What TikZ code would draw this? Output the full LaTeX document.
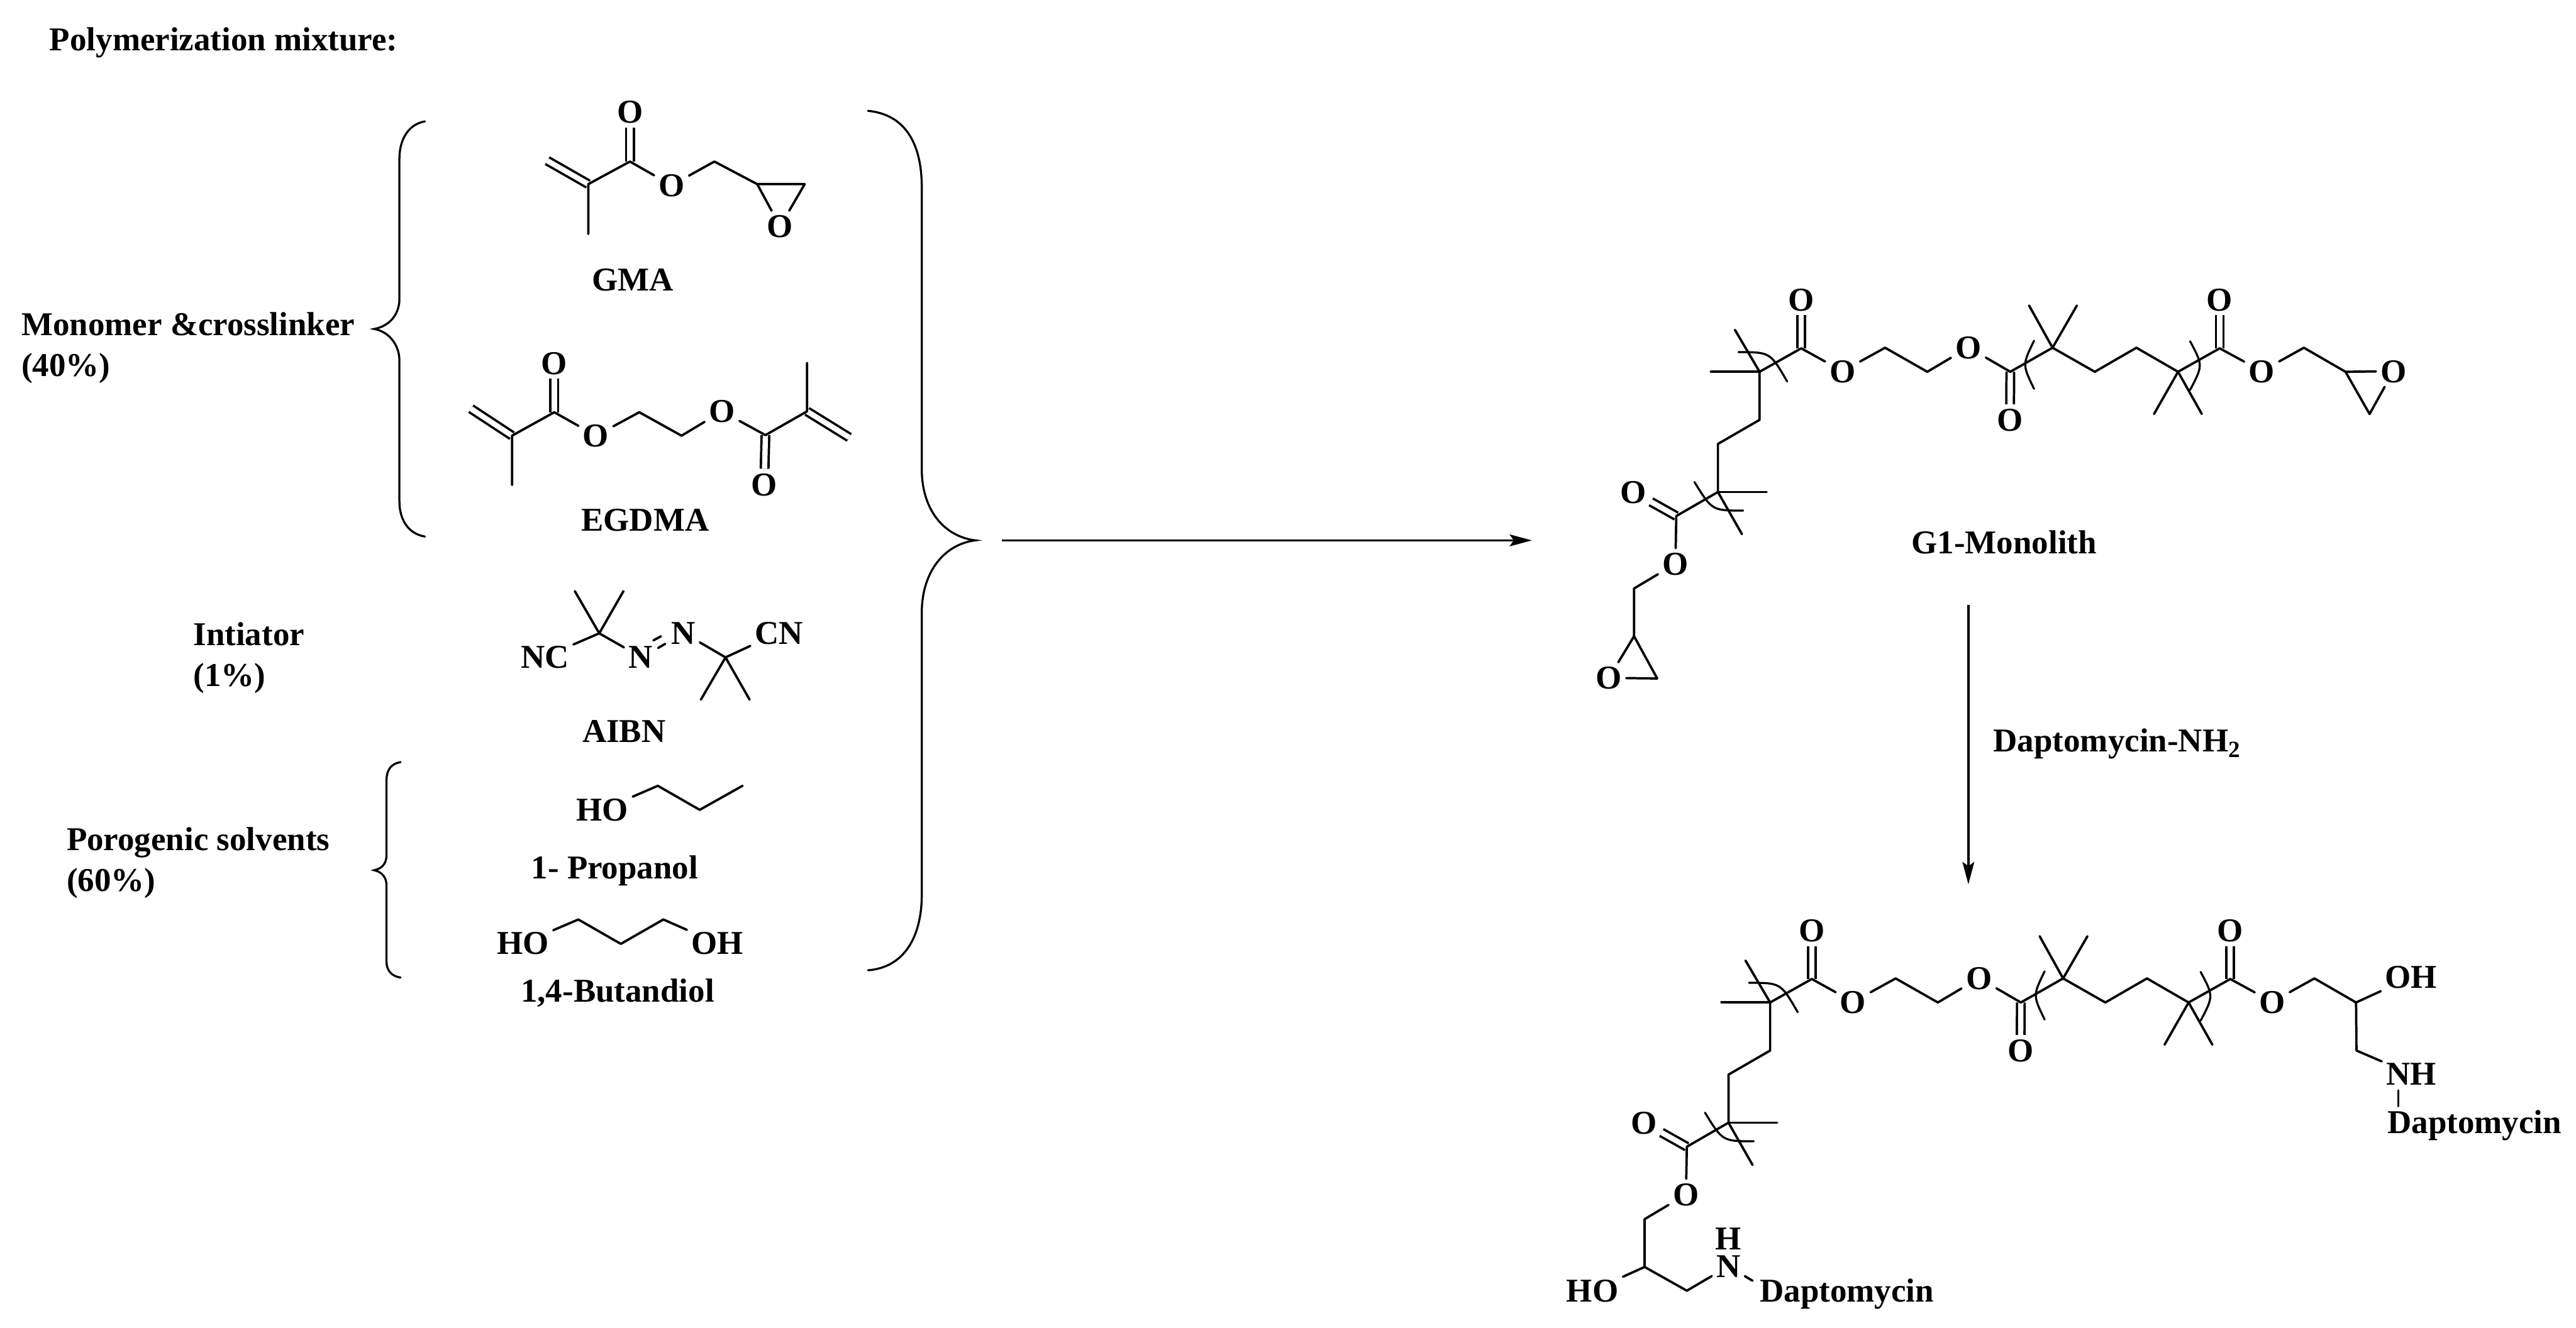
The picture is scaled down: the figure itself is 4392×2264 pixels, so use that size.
\documentclass[tikz,border=0pt]{standalone}
\usepackage{fontspec}
\setmainfont{Liberation Serif}
\usetikzlibrary{arrows.meta}

\tikzset{
    every node/.style={font=\fontsize{16.15}{19.8}\selectfont\bfseries},
    bond/.style={draw, line width=.04cm, line cap=round, line join=round},
    dbond/.style={draw, line width=.04cm, double, double distance=.09cm},
    curl/.style={draw, line width=.035cm, line cap=round},
    rxn/.style={draw, line width=.04cm, -{Stealth[length=.38cm, width=.2cm, inset=.07cm]}},
    atom/.style={inner sep=.07cm, text height=.38cm, text depth=0cm},
    lab/.style={inner sep=0pt, text height=.38cm, text depth=0cm},
    note/.style={inner sep=0pt, anchor=west, align=left}
}

\begin{document}
\begin{tikzpicture}[x=.01cm, y=-.01cm]
    \useasboundingbox (0,0) rectangle (4392,2264);

    % Chain shared by both polymers, measured from its first quaternary carbon
    \def\polychain{
        \coordinate (c1) at (0,0);
        \coordinate (co1) at (71,-40);
        \coordinate (cha) at (214,-41);
        \coordinate (chb) at (286,0);
        \coordinate (co2) at (427.5,0);
        \coordinate (c2) at (499.5,-41);
        \coordinate (chc) at (571.5,0);
        \coordinate (chd) at (642.5,-41);
        \coordinate (c3) at (713.5,0);
        \coordinate (co3) at (784.5,-40);
        \coordinate (che) at (928,-41);
        \coordinate (chf) at (999,0);
        \coordinate (chg) at (0,82);
        \coordinate (chh) at (-71,123);
        \coordinate (c4) at (-71,205);
        \coordinate (co4) at (-142,246);
        \coordinate (chi) at (-214,369.5);
        \coordinate (chj) at (-214,451);

        \node[atom] (o1) at (71,-123) {O};
        \node[atom] (oa) at (141.5,-1) {O};
        \node[atom] (ob) at (356,-41.5) {O};
        \node[atom] (o2) at (427,82) {O};
        \node[atom] (o3) at (784.5,-123) {O};
        \node[atom] (oc) at (856,-1) {O};
        \node[atom] (o4) at (-215,205) {O};
        \node[atom] (od) at (-143.5,327.5) {O};

        \draw[dbond] (co1) -- (o1);
        \draw[dbond] (co2) -- (o2);
        \draw[dbond] (co3) -- (o3);
        \draw[dbond] (co4) -- (o4);

        \draw[bond] (chj) -- (chi) -- (od) -- (co4) -- (c4) -- (chh) -- (chg) -- (c1) -- (co1) -- (oa) -- (cha) -- (chb) -- (ob) -- (co2) -- (c2) -- (chc) -- (chd) -- (c3) -- (co3) -- (oc) -- (che) -- (chf);

        \draw[bond] (c1) -- (-83,0);          % methyl groups
        \draw[bond] (c1) -- (-42,-71.5);
        \draw[bond] (c2) -- (459.5,-113);
        \draw[bond] (c2) -- (541,-113);
        \draw[bond] (c3) -- (672.5,72);
        \draw[bond] (c3) -- (754,72);
        \draw[bond] (c4) -- (12,205);
        \draw[bond] (c4) -- (-30,277);

        \draw[curl] (-36,-33.5) .. controls (18,-33.5) .. (47,16.5);  % repeat unit marks
        \draw[curl] (468,-53) .. controls (448,-12) .. (468,29);
        \draw[curl] (734,-52) .. controls (756,-11) .. (734,31);
        \draw[curl] (-111,188) .. controls (-81,236.7) .. (-28,236.7);
    }

    \node[lab, anchor=west] (title) at (84,67) {Polymerization mixture:};

    % Left column: what goes into the mixture
    \node[note] (monomer) at (36,593) {Monomer \&crosslinker\\(40\%)};
    \node[note] (initiator) at (329,1122) {Intiator\\(1\%)};
    \node[note] (porogen) at (113,1471) {Porogenic solvents\\(60\%)};

    \draw[curl] (724.5,207) .. controls (695,212) and (681,240) .. (681,270) -- (681,510) .. controls (681,535) and (665,556) .. (638,561) .. controls (665,566) and (681,590) .. (681,615) -- (681,855) .. controls (681,885) and (695,910) .. (724.5,915);
    \draw[curl] (683,1299.6) .. controls (668,1302) and (659,1312) .. (659,1330) -- (659,1458) .. controls (659,1472) and (652,1481) .. (638,1484) .. controls (652,1487) and (659,1497) .. (659,1510) -- (659,1640) .. controls (659,1655) and (668,1665) .. (683,1667);
    \draw[curl] (1480,189) .. controls (1540,195) and (1571.6,240) .. (1571.6,320) -- (1571.6,800) .. controls (1571.6,870) and (1610,915) .. (1663,921.5) .. controls (1610,928) and (1571.6,975) .. (1571.6,1045) -- (1571.6,1525) .. controls (1571.6,1600) and (1540,1650) .. (1480,1654.6);

    % GMA
    \coordinate (gmaA) at (1003,314);
    \coordinate (gmaB) at (1074,275.5);
    \coordinate (gmaC) at (1218,275.5);
    \coordinate (gmaD) at (1291,314);
    \coordinate (gmaE) at (1372,314);
    \node[atom] (gmaO) at (1074,191) {O};
    \node[atom] (gmaP) at (1145,316) {O};
    \node[atom] (gmaQ) at (1330,386) {O};
    \draw[dbond] (gmaB) -- (gmaO);
    \draw[dbond] (gmaA) -- (933,274);
    \draw[bond] (1003,399) -- (gmaA) -- (gmaB) -- (gmaP) -- (gmaC) -- (gmaD) -- (gmaE) -- (gmaQ) -- (gmaD);
    \node[lab] (gma) at (1079,477) {GMA};

    % EGDMA
    \coordinate (egA) at (873,743);
    \coordinate (egB) at (945,703);
    \coordinate (egC) at (1090,703);
    \coordinate (egD) at (1162,743);
    \coordinate (egE) at (1305,742);
    \coordinate (egF) at (1376,701.5);
    \node[atom] (egO) at (945,619) {O};
    \node[atom] (egP) at (1016,743) {O};
    \node[atom] (egQ) at (1231,701.5) {O};
    \node[atom] (egR) at (1303,826) {O};
    \draw[dbond] (egB) -- (egO);
    \draw[dbond] (egE) -- (egR);
    \draw[dbond] (egA) -- (803,697);
    \draw[dbond] (egF) -- (1448,746);
    \draw[bond] (873,827) -- (egA) -- (egB) -- (egP) -- (egC) -- (egD) -- (egQ) -- (egE) -- (egF) -- (1376,619);
    \node[lab] (egdma) at (1100,886.5) {EGDMA};

    % AIBN
    \coordinate (aiA) at (1021.7,1080);
    \coordinate (aiB) at (1237,1121);
    \node[atom] (aiNC) at (929,1120) {NC};
    \node[atom] (aiN) at (1092,1120) {N};
    \node[atom] (aiM) at (1165,1079) {N};
    \node[atom] (aiCN) at (1328,1079) {CN};
    \draw[bond] (aiNC) -- (aiA) -- (aiN);
    \draw[bond] (980,1008) -- (aiA) -- (1063,1008);
    \draw[bond] (aiM) -- (aiB) -- (aiCN);
    \draw[bond] (1195,1193) -- (aiB) -- (1278,1193);
    \draw[bond] (1114,1092) -- (1127,1085);   % the N=N stubs
    \draw[bond] (1122,1105) -- (1134,1098);
    \node[lab] (aibn) at (1064,1247) {AIBN};

    % 1-Propanol
    \node[atom] (prO) at (1027,1381) {HO};
    \draw[bond] (prO) -- (1121.5,1340) -- (1193,1381) -- (1266,1340);
    \node[lab] (propanol) at (1048,1480) {1- Propanol};

    % 1,4-Butandiol
    \node[atom] (buO) at (891.5,1608.5) {HO};
    \node[atom] (buP) at (1223,1608.5) {OH};
    \draw[bond] (buO) -- (986,1568) -- (1058.5,1609.6) -- (1131,1568) -- (buP);
    \node[lab] (butandiol) at (1053,1690) {1,4-Butandiol};

    % Reaction arrows
    \coordinate (mixout) at (1708,921.5);
    \coordinate (monoin) at (2612,921.5);
    \coordinate (monoout) at (3356,1032);
    \coordinate (prodin) at (3356,1508);
    \draw[rxn] (mixout) -- (monoin);
    \draw[rxn] (monoout) -- (prodin);
    \node[lab, anchor=west] (reagent) at (3398,1263) {Daptomycin-NH\textsubscript{2}};

    % G1-Monolith
    \begin{scope}[shift={(3000,634)}]
        \polychain
        \coordinate (epA) at (1040,72);
        \node[atom] (epO) at (1080.6,-1) {O};
        \draw[bond] (chf) -- (epO) -- (epA) -- (chf);
        \coordinate (epB) at (-174.5,523);
        \node[atom] (epP) at (-257,522) {O};
        \draw[bond] (chj) -- (epP) -- (epB) -- (chj);
        \node[lab] (monolith) at (417,291) {G1-Monolith};
    \end{scope}

    % Product with Daptomycin on both ends
    \begin{scope}[shift={(3018,1709.5)}]
        \polychain
        \coordinate (chk) at (999.7,82);
        \node[atom] (ohA) at (1093,-43) {OH};
        \node[atom] (nhA) at (1093,122) {NH};
        \node[lab, anchor=west] (dapA) at (1052,204) {Daptomycin};
        \coordinate (nhAt) at (1071,150);
        \coordinate (dapAt) at (1071,177);
        \draw[bond] (ohA) -- (chf) -- (chk) -- (nhA);
        \draw[bond] (nhAt) -- (dapAt);

        \coordinate (chl) at (-142,491.5);
        \node[atom] (ohB) at (-303,491.2) {HO};
        \node[atom] (nhB) at (-71.3,450) {N};
        \node[lab] (hB) at (-71.3,402.8) {H};
        \node[lab, anchor=west] (dapB) at (-18,491.2) {Daptomycin};
        \coordinate (dapBt) at (-30,474.5);
        \draw[bond] (ohB) -- (chj) -- (chl) -- (nhB) -- (dapBt);
    \end{scope}
\end{tikzpicture}
\end{document}
